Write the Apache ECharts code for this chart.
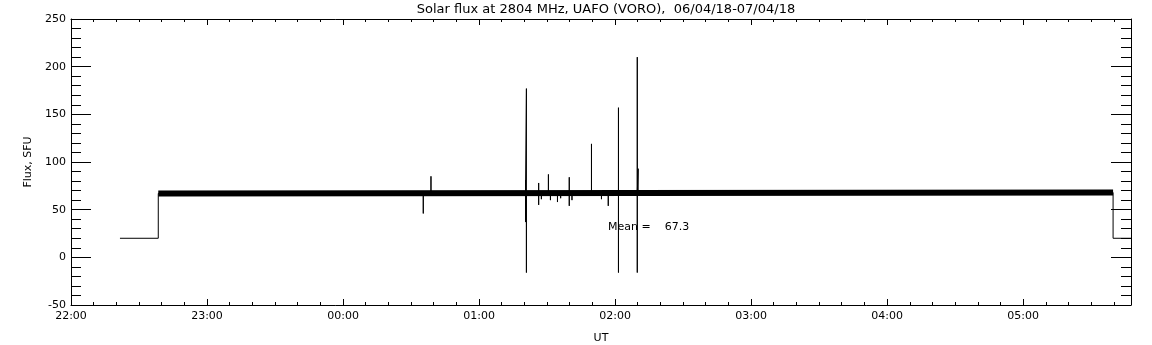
<!DOCTYPE html>
<html>
<head>
<meta charset="utf-8">
<title>Solar flux at 2804 MHz</title>
<script src="https://cdn.jsdelivr.net/npm/echarts@6/dist/echarts.min.js"></script>
<style>
  html, body { margin: 0; padding: 0; background: #fff; }
  #chart { width: 1152px; height: 345px; }
</style>
</head>
<body>
<div id="chart"></div>
<script>
// UT times (start 06/04/18 22:00) and flux in SFU.
// every spike is base -> peak(s) -> base at the same time
const fluxTimes = [
  '22:21:36', '22:38:30', '22:38:30',
  '00:35:24', '00:35:24', '00:35:24',
  '00:38:48', '00:38:48', '00:38:48',
  '01:20:30', '01:20:30', '01:20:30', '01:20:30',
  '01:20:54', '01:20:54', '01:20:54', '01:20:54',
  '01:26:18', '01:26:18', '01:26:18', '01:26:18',
  '01:27:30', '01:27:30', '01:27:30',
  '01:30:36', '01:30:36', '01:30:36',
  '01:31:30', '01:31:30', '01:31:30',
  '01:34:36', '01:34:36', '01:34:36',
  '01:36:00', '01:36:00', '01:36:00',
  '01:39:48', '01:39:48', '01:39:48', '01:39:48',
  '01:41:00', '01:41:00', '01:41:00',
  '01:49:36', '01:49:36', '01:49:36',
  '01:54:00', '01:54:00', '01:54:00',
  '01:57:00', '01:57:00', '01:57:00',
  '02:01:30', '02:01:30', '02:01:30', '02:01:30',
  '02:09:48', '02:09:48', '02:09:48', '02:09:48',
  '02:10:12', '02:10:12', '02:10:12',
  '05:39:42', '05:39:42', '05:47:36'
];
const fluxValues = [
  20, 20, 67,
  67, 46, 67,
  67, 85, 67,
  67, 81, 37, 67,
  67, 177, -16, 67,
  67, 78, 55, 67,
  67, 61, 67,
  67, 87, 67,
  67, 60, 67,
  67, 58, 67,
  67, 62, 67,
  67, 84, 54, 67,
  67, 60, 67,
  67, 119, 67,
  67, 61, 67,
  67, 54, 67,
  67, 157, -16, 67,
  68, 210, -16, 68,
  68, 93, 68,
  68, 20, 20
];

// the dense noise band around the quiet-sun level
const bandTimes = ['22:38:30', '05:39:42'];
const bandValues = [67, 68];

const meanText = 'Mean =    67.3';
const meanAt = ['01:56:42', 32];

const xStart = '22:00:00';
const xEnd = '05:47:36';

function mins(t) {
  const p = t.split(':').map(Number);
  let v = p[0] * 60 + p[1] + (p[2] || 0) / 60 - 22 * 60;
  if (v < 0) v += 1440;
  return v;
}
function hhmm(v) {
  const h = Math.floor(22 + v / 60) % 24;
  return (h < 10 ? '0' : '') + h + ':00';
}

const font = 'DejaVu Sans';
const black = '#000';

function xAxisDef(position, interval, tickLen, withLabels) {
  return {
    type: 'value',
    position: position,
    min: mins(xStart),
    max: mins(xEnd),
    interval: interval,
    axisLine: { show: interval === 60, onZero: false, lineStyle: { color: black, width: 1 } },
    axisTick: { show: true, inside: true, length: tickLen, lineStyle: { color: black, width: 1 } },
    axisLabel: {
      show: withLabels,
      margin: 6,
      color: black,
      fontFamily: font,
      fontSize: 11,
      formatter: v => (Math.abs(v % 60) < 1e-6 ? hhmm(v) : '')
    },
    splitLine: { show: false },
    name: withLabels ? 'UT' : '',
    nameLocation: 'middle',
    nameGap: 28,
    nameTextStyle: { color: black, fontFamily: font, fontSize: 11 }
  };
}

function yAxisDef(position, withLabels) {
  return {
    type: 'value',
    position: position,
    min: -50,
    max: 250,
    interval: 50,
    axisLine: { show: true, onZero: false, lineStyle: { color: black, width: 1 } },
    axisTick: { show: true, inside: true, length: 20, lineStyle: { color: black, width: 1 } },
    minorTick: { show: true, splitNumber: 5, length: 10, lineStyle: { color: black, width: 1 } },
    axisLabel: { show: withLabels, margin: 5, color: black, fontFamily: font, fontSize: 11 },
    splitLine: { show: false },
    name: withLabels ? 'Flux, SFU' : '',
    nameLocation: 'middle',
    nameGap: 34,
    nameTextStyle: { color: black, fontFamily: font, fontSize: 11 }
  };
}

const chart = echarts.init(document.getElementById('chart'), null, { renderer: 'canvas' });

chart.setOption({
  animation: false,
  backgroundColor: '#fff',
  title: {
    text: 'Solar flux at 2804 MHz, UAFO (VORO),  06/04/18-07/04/18',
    left: 601,
    top: -2,
    textAlign: 'center',
    textStyle: { color: black, fontFamily: font, fontSize: 13, fontWeight: 'normal' }
  },
  grid: { left: 71, right: 21, top: 19, bottom: 40, containLabel: false, outerBoundsMode: 'none' },
  xAxis: [
    xAxisDef('bottom', 60, 6, true),
    xAxisDef('bottom', 10, 3, false),
    xAxisDef('top', 60, 6, false),
    xAxisDef('top', 10, 3, false)
  ],
  yAxis: [yAxisDef('left', true), yAxisDef('right', false)],
  series: [
    {
      name: 'band',
      type: 'line',
      xAxisIndex: 0,
      yAxisIndex: 0,
      symbol: 'none',
      silent: true,
      lineStyle: { color: black, width: 6, cap: 'butt' },
      data: bandTimes.map((t, i) => [mins(t), bandValues[i]])
    },
    {
      name: 'flux',
      type: 'line',
      xAxisIndex: 0,
      yAxisIndex: 0,
      symbol: 'none',
      lineStyle: { color: black, width: 1 },
      data: fluxTimes.map((t, i) => [mins(t), fluxValues[i]]),
      markPoint: {
        symbol: 'circle',
        symbolSize: 1,
        itemStyle: { color: 'rgba(0,0,0,0)' },
        label: {
          show: true,
          position: 'right',
          distance: 0,
          color: black,
          fontFamily: font,
          fontSize: 11,
          formatter: meanText
        },
        data: [{ coord: [mins(meanAt[0]), meanAt[1]] }]
      }
    }
  ]
});
</script>
</body>
</html>
